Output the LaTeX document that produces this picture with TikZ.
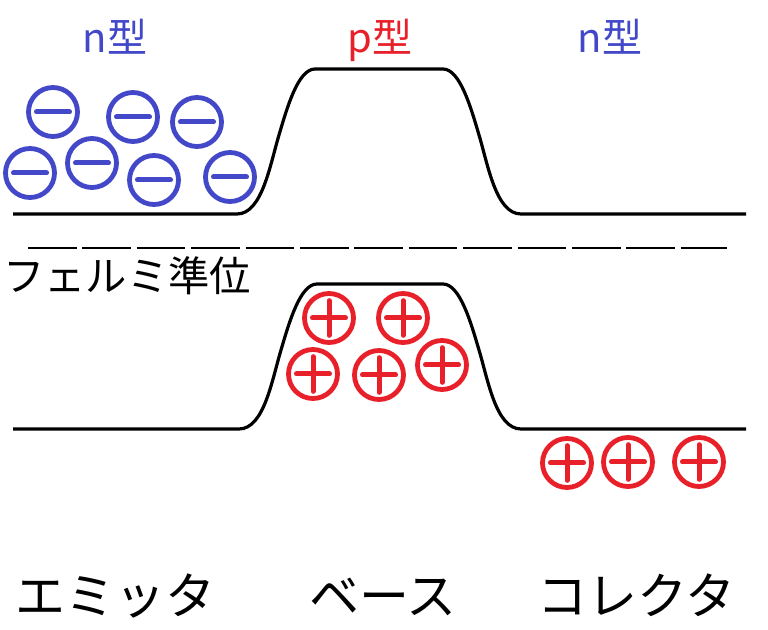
\documentclass[tikz,border=0pt]{standalone}
\usepackage{fontspec}
\setmainfont{Noto Sans CJK JP}
\definecolor{nblue}{RGB}{66,72,200}
\definecolor{pred}{RGB}{232,32,42}
\tikzset{
  band/.style={line width=2.4pt, line join=round},
  fermi/.style={line width=1.5pt, dash pattern=on 36.4pt off 4.4pt},
  chg/.style={circle, line width=3.6pt, minimum size=36.75pt, inner sep=0pt},
  elec/.style={chg, draw=nblue,
    path picture={\draw[nblue, line width=3.75pt, line cap=round]
      ([xshift=-12.4pt]path picture bounding box.center) -- ([xshift=12.4pt]path picture bounding box.center);}},
  hole/.style={chg, draw=pred,
    path picture={\draw[pred, line width=3.75pt, line cap=round]
      ([xshift=-12.4pt]path picture bounding box.center) -- ([xshift=12.4pt]path picture bounding box.center)
      ([yshift=-13pt]path picture bounding box.center) -- ([yshift=13pt]path picture bounding box.center);}},
  typelbl/.style={font=\fontsize{30}{36}\selectfont, inner sep=0pt, anchor=base},
  regionlbl/.style={font=\fontsize{37.5}{44}\selectfont, inner sep=0pt, anchor=base west},
}
\begin{document}
\begin{tikzpicture}[x=0.75pt, y=-0.75pt]
\useasboundingbox (0,0) rectangle (768,630);
% conduction band
\draw[band] (13,214) -- (237,214)
  .. controls (262,214) and (270,165) .. (279,135)
  .. controls (287,108) and (298,69) .. (315,69) -- (443,69)
  .. controls (460,69) and (471,108) .. (479,135)
  .. controls (488,165) and (496,214) .. (521,214) -- (746,214);
% valence band
\draw[band] (13,429) -- (239,429)
  .. controls (264,429) and (272,380) .. (281,350)
  .. controls (289,323) and (300,284) .. (317,284) -- (443,284)
  .. controls (460,284) and (471,323) .. (479,350)
  .. controls (488,380) and (496,429) .. (521,429) -- (746,429);
% Fermi level
\coordinate (fa) at (28,248);
\coordinate (fb) at (727,248);
\draw[fermi] (fa) -- (fb);
\node[font=\fontsize{31}{36}\selectfont, inner sep=0pt, anchor=base west] (fl) at (3,292) {フェルミ準位};
% type labels
\node[typelbl, text=nblue] (t1) at (115,53) {n型};
\node[typelbl, text=pred] (t2) at (380,53) {p型};
\node[typelbl, text=nblue] (t3) at (610,53) {n型};
% electrons
\node[elec] (e1) at (53,112) {};
\node[elec] (e2) at (133,117) {};
\node[elec] (e3) at (197,122) {};
\node[elec] (e4) at (30,173) {};
\node[elec] (e5) at (92,163) {};
\node[elec] (e6) at (154,180) {};
\node[elec] (e7) at (230,177) {};
% holes
\node[hole] (h1) at (329,318) {};
\node[hole] (h2) at (403,318) {};
\node[hole] (h3) at (313,374) {};
\node[hole] (h4) at (379,375) {};
\node[hole] (h5) at (442,365) {};
\node[hole] (h6) at (567,463) {};
\node[hole] (h7) at (628,462) {};
\node[hole] (h8) at (699,462) {};
% region labels
\node[regionlbl] (r1) at (15,615) {エミッタ};
\node[regionlbl] (r2) at (309,615) {ベース};
\node[regionlbl] (r3) at (537,615) {コレクタ};
\end{tikzpicture}
\end{document}
